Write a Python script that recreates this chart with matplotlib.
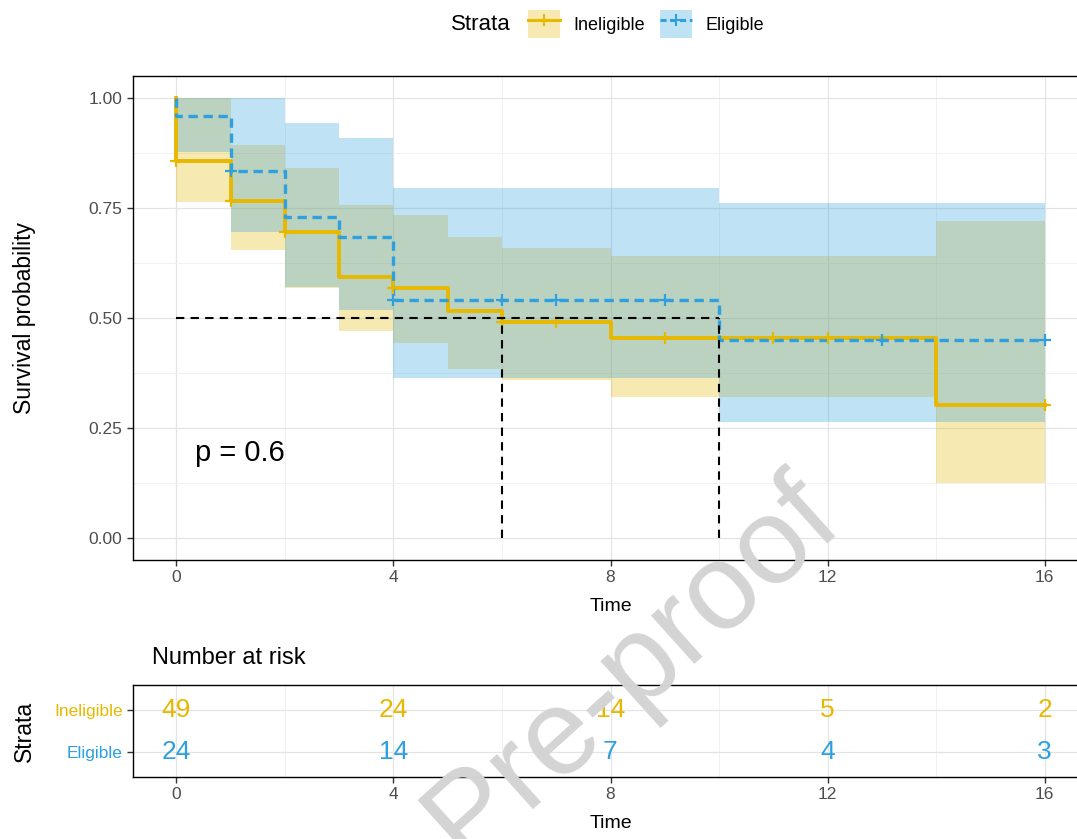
import matplotlib
matplotlib.use('Agg')
import matplotlib.pyplot as plt
from matplotlib.patches import Patch
from matplotlib.lines import Line2D
from matplotlib.legend_handler import HandlerTuple

plt.rcParams['font.family'] = ['Liberation Sans', 'DejaVu Sans']

GOLD = '#E7B800'
BLUE = '#2E9FDF'

# -----------------------------
# Data
# -----------------------------
strata = ['Ineligible', 'Eligible']

inel_time = [0, 0, 1, 2, 3, 4, 5, 6, 8, 14, 16]
inel_surv = [1.0, 0.857, 0.765, 0.695, 0.593, 0.568, 0.515, 0.49, 0.455, 0.302, 0.302]
inel_ci_time = [0, 1, 2, 3, 4, 5, 6, 8, 14, 16]
inel_upper = [1.0, 0.893, 0.84, 0.757, 0.735, 0.685, 0.66, 0.64, 0.72, 0.72]
inel_lower = [0.763, 0.655, 0.568, 0.47, 0.443, 0.385, 0.36, 0.32, 0.125, 0.125]
inel_censor = [0, 1, 2, 4, 6, 7, 9, 11, 12, 16]

elig_time = [0, 0, 1, 2, 3, 4, 10, 16]
elig_surv = [1.0, 0.958, 0.833, 0.729, 0.684, 0.541, 0.451, 0.451]
elig_ci_time = [0, 1, 2, 3, 4, 10, 16]
elig_upper = [1.0, 1.0, 0.943, 0.909, 0.795, 0.761, 0.761]
elig_lower = [0.877, 0.695, 0.57, 0.518, 0.364, 0.264, 0.264]
elig_censor = [1, 4, 6, 7, 9, 13, 16]

median_times = [6, 10]
p_value = 0.6

risk_times = [0, 4, 8, 12, 16]
inel_risk = [49, 24, 14, 5, 2]
elig_risk = [24, 14, 7, 4, 3]


def step_value(times, surv, t):
    # survival value at time t (right-continuous step)
    val = surv[0]
    for ti, si in zip(times, surv):
        if ti <= t:
            val = si
    return val


def style_grid(ax):
    ax.set_axisbelow(True)
    ax.grid(which='major', color='#E4E4E4', lw=0.9)
    ax.grid(which='minor', color='#F1F1F1', lw=0.7)
    for s in ax.spines.values():
        s.set_color('black')
        s.set_linewidth(1.0)
    ax.tick_params(which='major', direction='out', length=4, width=1,
                   color='#333333', labelcolor='#4D4D4D', labelsize=12.5)
    ax.tick_params(which='minor', length=0)


W, H = 1077, 839
fig = plt.figure(figsize=(W / 100, H / 100), dpi=100)

# -----------------------------
# Survival curves
# -----------------------------
ax = fig.add_axes([133 / W, 1 - 560 / H, (1088 - 133) / W, (560 - 76) / H])

ax.fill_between(inel_ci_time, inel_lower, inel_upper, step='post',
                color=GOLD, alpha=0.3, lw=0)
ax.fill_between(elig_ci_time, elig_lower, elig_upper, step='post',
                color=BLUE, alpha=0.3, lw=0)

ax.step(inel_time, inel_surv, where='post', color=GOLD, lw=2.8, zorder=3)
ax.step(elig_time, elig_surv, where='post', color=BLUE, lw=2.4,
        ls=(0, (2.8, 1.7)), zorder=4)

ax.plot(inel_censor, [step_value(inel_time, inel_surv, t) for t in inel_censor],
        ls='none', marker='+', ms=9, mew=1.6, color=GOLD, zorder=5)
ax.plot(elig_censor, [step_value(elig_time, elig_surv, t) for t in elig_censor],
        ls='none', marker='+', ms=9, mew=1.6, color=BLUE, zorder=5)

# median survival lines
ax.plot([0, max(median_times)], [0.5, 0.5], color='black', lw=1.5,
        ls=(0, (4, 3)), zorder=6)
for mt in median_times:
    ax.plot([mt, mt], [0, 0.5], color='black', lw=1.5, ls=(0, (4, 3)), zorder=6)

ax.text(0.35, 0.193, f'p = {p_value}', fontsize=21, color='black',
        ha='left', va='center')

ax.set_xlim(-0.8, 16.8)
ax.set_ylim(-0.05, 1.05)
ax.set_xticks(risk_times)
ax.set_xticks([2, 6, 10, 14], minor=True)
ax.set_yticks([0, 0.25, 0.5, 0.75, 1.0])
ax.set_yticks([0.125, 0.375, 0.625, 0.875], minor=True)
ax.set_yticklabels(['0.00', '0.25', '0.50', '0.75', '1.00'])
style_grid(ax)
ax.set_xlabel('Time', fontsize=14, labelpad=9)
ax.set_ylabel('Survival probability', fontsize=16.5)
ax.yaxis.set_label_coords(-0.1015, 0.5)

# legend on top
fig.text(451 / W, 1 - 25 / H, 'Strata', fontsize=16, ha='left', va='center')
handles = [
    (Patch(facecolor=GOLD, alpha=0.3, lw=0),
     Line2D([], [], color=GOLD, lw=2.2, marker='+', ms=8, mew=1.5)),
    (Patch(facecolor=BLUE, alpha=0.3, lw=0),
     Line2D([], [], color=BLUE, lw=2.2, ls=(0, (2, 1.2)), marker='+', ms=8, mew=1.5)),
]
fig.legend(handles=handles, labels=strata, ncol=2, frameon=False,
           loc='center left', bbox_to_anchor=(512 / W, 1 - 24 / H),
           fontsize=13, numpoints=1, handlelength=1.75, handleheight=2.0,
           handletextpad=0.75, columnspacing=0.85,
           handler_map={tuple: HandlerTuple(ndivide=1, pad=0)})

# -----------------------------
# Number at risk table
# -----------------------------
axr = fig.add_axes([133 / W, 1 - 777 / H, (1088 - 133) / W, (777 - 685) / H])
for t, n in zip(risk_times, inel_risk):
    axr.text(t, 2, str(n), color=GOLD, fontsize=19, ha='center', va='center')
for t, n in zip(risk_times, elig_risk):
    axr.text(t, 1, str(n), color=BLUE, fontsize=19, ha='center', va='center')

axr.set_xlim(-0.8, 16.8)
axr.set_ylim(0.4, 2.6)
axr.set_xticks(risk_times)
axr.set_xticks([2, 6, 10, 14], minor=True)
axr.set_yticks([2, 1])
axr.set_yticklabels(strata)
style_grid(axr)
axr.grid(which='minor', axis='y', visible=False)
for lbl, c in zip(axr.get_yticklabels(), [GOLD, BLUE]):
    lbl.set_color(c)
    lbl.set_fontsize(12.5)
axr.set_xlabel('Time', fontsize=14, labelpad=9)
axr.set_ylabel('Strata', fontsize=16.5)
axr.yaxis.set_label_coords(-0.1015, 0.5)

fig.text(152 / W, 1 - 658 / H, 'Number at risk', fontsize=17,
         ha='left', va='center')

# journal watermark
fig.text(632 / W, 1 - 668 / H, 'Pre-proof', fontsize=88, color='#D4D4D4',
         rotation=42, ha='center', va='center', zorder=10)

fig.savefig('out.png', dpi=100)
plt.close(fig)
